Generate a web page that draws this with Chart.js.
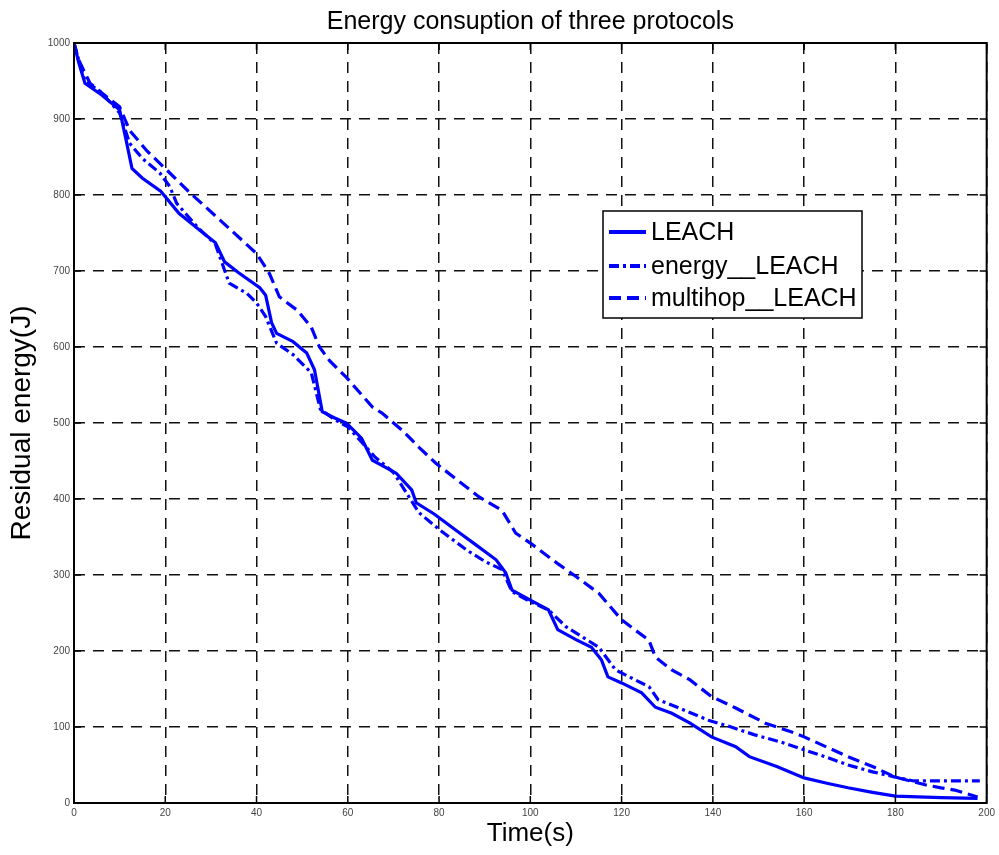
<!DOCTYPE html>
<html>
<head>
<meta charset="utf-8">
<script src="https://cdn.jsdelivr.net/npm/chart.js@4"></script>
<style>
  html, body { margin: 0; padding: 0; background: #fff; }
  #wrap { width: 999px; height: 855px; }
</style>
</head>
<body>
<div id="wrap"><canvas id="energyChart" width="999" height="855"></canvas></div>
<script>
// values
const leachT = [0, 1, 2.4, 6, 10, 11.5, 12.7, 15, 19, 23, 27.5, 31, 33, 36, 40.7, 42, 43.3, 44.4, 48, 51, 52.7, 54.4, 57, 59.7, 63, 65.4, 70.6, 74, 75, 79, 83.7, 88, 92.5, 94.6, 96, 100, 104, 106, 110, 113.4, 115.6, 117, 120, 124.4, 127.4, 131, 135, 139.7, 145, 148, 154, 160, 165, 169.6, 175, 180, 190, 198];
const leachE = [1000, 975, 947, 932, 912, 870, 835, 822, 805, 776, 754, 737, 712, 698, 678, 668, 632, 618, 607, 592, 570, 515, 507, 500, 480, 451, 434, 412, 395, 380, 359, 340, 320, 303, 280, 267, 254, 228, 215, 205, 188, 166, 158, 145, 126, 118, 105, 87, 74, 61, 48, 33, 26, 20, 14, 9, 7, 6];

const energyT = [0, 1, 2.4, 6, 10, 12.2, 15, 18.8, 21, 22.5, 27, 31, 33, 34, 37.8, 40, 42, 44.4, 48, 52, 54, 57, 60, 63, 66, 70, 75.6, 80, 86, 90, 93.8, 96, 100, 104, 107.8, 111, 115, 118.7, 122, 126, 128, 133, 139, 144, 149, 155, 160, 165, 169.6, 175, 180, 184, 190, 198.5];
const energyE = [1000, 978, 950, 935, 908, 868, 848, 829, 811, 789, 758, 735, 701, 684, 671, 658, 640, 605, 590, 566, 518, 505, 495, 475, 455, 435, 382, 360, 333, 318, 307, 278, 265, 254, 232, 220, 205, 175, 165, 153, 136, 124, 109, 100, 90, 80, 70, 60, 50, 41, 34, 29, 29, 29];

const multiT = [0, 1, 3.5, 7, 10, 12.2, 16, 20.3, 25.4, 32, 36, 40, 42.8, 45, 49, 52, 53.8, 56, 59.7, 65.4, 67.5, 72, 75.6, 79.3, 84, 88.7, 93.8, 96.8, 100, 106, 110, 115, 120, 126, 127.4, 131, 135, 139.7, 145, 151.5, 158, 160, 169.6, 175, 180, 186.5, 190, 193, 198];
const multiE = [1000, 978, 947, 930, 916, 885, 858, 833, 803, 767, 745, 723, 697, 666, 648, 626, 600, 582, 560, 521, 513, 490, 468, 447, 425, 403, 385, 355, 342, 315, 298, 276, 241, 214, 192, 175, 162, 140, 125, 105, 92, 87, 61, 48, 34, 24, 20, 17, 8];

const seriesNames = ["LEACH", "energy__LEACH", "multihop__LEACH"];
const xTicks = [0, 20, 40, 60, 80, 100, 120, 140, 160, 180, 200];
const yTicks = [0, 100, 200, 300, 400, 500, 600, 700, 800, 900, 1000];

const titleText = "Energy consuption of three protocols";
const blue = "#0000ff";
const dashes = [[], [10, 4, 3, 4], [12, 6]];
const fontFamily = "'Liberation Sans', Arial, sans-serif";

function toPoints(t, e) {
  return t.map((x, i) => ({ x: x, y: e[i] }));
}

// frame, inward ticks, title and the legend box are drawn by hand, MATLAB style
const framePlugin = {
  id: "frame",
  afterDraw(chart) {
    const ctx = chart.ctx;
    const a = chart.chartArea;
    const xs = chart.scales.x, ys = chart.scales.y;
    ctx.save();
    ctx.strokeStyle = "#000";
    ctx.lineWidth = 2;
    ctx.setLineDash([]);
    ctx.strokeRect(a.left, a.top, a.right - a.left, a.bottom - a.top);

    ctx.lineWidth = 1.5;
    ctx.beginPath();
    xTicks.forEach(v => {
      const px = xs.getPixelForValue(v);
      ctx.moveTo(px, a.bottom); ctx.lineTo(px, a.bottom - 7);
      ctx.moveTo(px, a.top); ctx.lineTo(px, a.top + 7);
    });
    yTicks.forEach(v => {
      const py = ys.getPixelForValue(v);
      ctx.moveTo(a.left, py); ctx.lineTo(a.left + 7, py);
      ctx.moveTo(a.right, py); ctx.lineTo(a.right - 7, py);
    });
    ctx.stroke();

    ctx.fillStyle = "#000";
    ctx.font = "25px " + fontFamily;
    ctx.textAlign = "center";
    ctx.textBaseline = "alphabetic";
    ctx.fillText(titleText, (a.left + a.right) / 2, 29);

    // legend
    const bx = 603, by = 211, bw = 259, bh = 107;
    ctx.fillStyle = "#fff";
    ctx.fillRect(bx, by, bw, bh);
    ctx.strokeStyle = "#000";
    ctx.lineWidth = 1.5;
    ctx.strokeRect(bx, by, bw, bh);
    ctx.font = "25px " + fontFamily;
    ctx.textAlign = "left";
    ctx.textBaseline = "middle";
    const rows = [232, 266, 298];
    chart.data.datasets.forEach((ds, i) => {
      ctx.strokeStyle = ds.borderColor;
      ctx.lineWidth = 4;
      ctx.setLineDash(ds.borderDash);
      ctx.beginPath();
      ctx.moveTo(609, rows[i]);
      ctx.lineTo(646, rows[i]);
      ctx.stroke();
      ctx.setLineDash([]);
      ctx.fillStyle = "#000";
      ctx.fillText(ds.label, 651, rows[i] + 1);
    });
    ctx.restore();
  }
};

const ctx = document.getElementById("energyChart").getContext("2d");
new Chart(ctx, {
  type: "line",
  data: {
    datasets: [
      { label: seriesNames[0], data: toPoints(leachT, leachE), borderColor: blue, borderWidth: 3.2, borderDash: dashes[0], pointRadius: 0, fill: false, tension: 0 },
      { label: seriesNames[1], data: toPoints(energyT, energyE), borderColor: blue, borderWidth: 3.2, borderDash: dashes[1], pointRadius: 0, fill: false, tension: 0 },
      { label: seriesNames[2], data: toPoints(multiT, multiE), borderColor: blue, borderWidth: 3.2, borderDash: dashes[2], pointRadius: 0, fill: false, tension: 0 }
    ]
  },
  options: {
    responsive: false,
    animation: false,
    layout: { padding: { top: 43, right: 10, left: 0, bottom: 0 } },
    plugins: {
      legend: { display: false },
      title: { display: false },
      tooltip: { enabled: false }
    },
    scales: {
      x: {
        type: "linear",
        min: 0,
        max: 200,
        afterBuildTicks: s => { s.ticks = xTicks.map(v => ({ value: v })); },
        afterFit: s => { s.height = 52; },
        ticks: { color: "#444", font: { size: 10, family: fontFamily }, padding: 4, maxRotation: 0, callback: v => String(v) },
        grid: { color: "#111", lineWidth: 1.5, drawTicks: false },
        border: { display: false, dash: [11, 8] },
        title: { display: true, text: "Time(s)", color: "#000", font: { size: 26, family: fontFamily }, padding: { top: 0, bottom: 6 } }
      },
      y: {
        type: "linear",
        min: 0,
        max: 1000,
        afterBuildTicks: s => { s.ticks = yTicks.map(v => ({ value: v })); },
        afterFit: s => { s.width = 74; },
        ticks: { color: "#444", font: { size: 10, family: fontFamily }, padding: 4, callback: v => String(v) },
        grid: { color: "#111", lineWidth: 1.5, drawTicks: false },
        border: { display: false, dash: [11, 8] },
        title: { display: true, text: "Residual energy(J)", color: "#000", font: { size: 28, family: fontFamily }, padding: { top: 5, bottom: 0 } }
      }
    }
  },
  plugins: [framePlugin]
});
</script>
</body>
</html>
